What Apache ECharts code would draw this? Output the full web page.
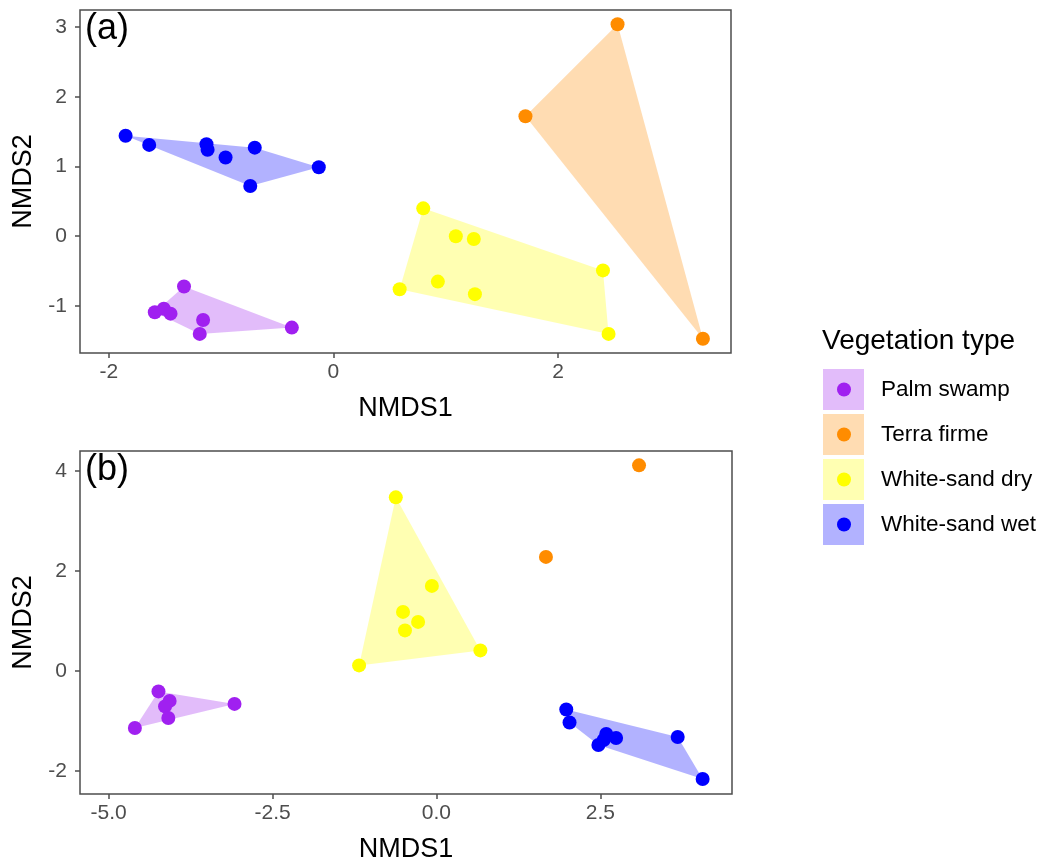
<!DOCTYPE html>
<html>
<head>
<meta charset="utf-8">
<script src="https://cdn.jsdelivr.net/npm/echarts@6/dist/echarts.min.js"></script>
<style>
html,body{margin:0;padding:0;background:#fff;}
#chart{width:1044px;height:864px;}
</style>
</head>
<body>
<div id="chart"></div>
<script>
// ---- Data ----
const groups = ['Palm swamp', 'Terra firme', 'White-sand dry', 'White-sand wet'];

// Panel (a)
const aPalmX = [-1.33, -1.59, -1.51, -1.45, -1.16, -1.19, -0.37];
const aPalmY = [-0.72, -1.09, -1.04, -1.11, -1.20, -1.40, -1.31];
const aTerraX = [2.53, 1.71, 3.29];
const aTerraY = [3.04, 1.72, -1.47];
const aDryX = [0.80, 1.09, 1.25, 0.59, 0.93, 1.26, 2.40, 2.45];
const aDryY = [0.40, 0.00, -0.04, -0.76, -0.65, -0.83, -0.49, -1.40];
const aWetX = [-1.85, -1.64, -1.13, -1.12, -0.96, -0.70, -0.74, -0.13];
const aWetY = [1.44, 1.31, 1.32, 1.24, 1.13, 1.27, 0.72, 0.99];

// Panel (b)
const bPalmX = [-4.24, -4.07, -4.14, -4.09, -4.60, -3.08];
const bPalmY = [-0.41, -0.60, -0.71, -0.94, -1.14, -0.66];
const bTerraX = [3.09, 1.67];
const bTerraY = [4.11, 2.28];
const bDryX = [-0.62, -1.18, -0.51, -0.48, -0.28, -0.07, 0.67];
const bDryY = [3.47, 0.11, 1.18, 0.81, 0.98, 1.70, 0.41];
const bWetX = [1.98, 2.03, 2.59, 2.74, 2.47, 2.55, 3.68, 4.06];
const bWetY = [-0.77, -1.03, -1.26, -1.34, -1.48, -1.38, -1.32, -2.16];

// Axis ranges and ticks
const aXRange = [-2.256, 3.54];
const aYRange = [-1.674, 3.244];
const bXRange = [-5.437, 4.508];
const bYRange = [-2.461, 4.397];
const aXTicks = [-2, 0, 2];
const aYTicks = [-1, 0, 1, 2, 3];
const bXTicks = [-5, -2.5, 0, 2.5];
const bYTicks = [-2, 0, 2, 4];

const panelLabels = ['(a)', '(b)'];
const axisTitles = ['NMDS1', 'NMDS2'];
const legendTitle = 'Vegetation type';

// ---- Styles ----
const colors = ['#A020F0', '#FF8C00', '#FFFF00', '#0000FF'];
const fills = ['rgba(160,32,240,0.3)', 'rgba(255,140,0,0.3)', 'rgba(255,255,0,0.3)', 'rgba(0,0,255,0.3)'];
const FONT = '"Liberation Sans", Arial, Helvetica, sans-serif';

function zip(xs, ys) { return xs.map((x, i) => [x, ys[i]]); }

function hull(pts) {
  const p = pts.slice().sort((a, b) => a[0] - b[0] || a[1] - b[1]);
  if (p.length < 3) return p;
  const cross = (o, a, b) => (a[0] - o[0]) * (b[1] - o[1]) - (a[1] - o[1]) * (b[0] - o[0]);
  const lower = [];
  for (const q of p) { while (lower.length >= 2 && cross(lower[lower.length - 2], lower[lower.length - 1], q) <= 0) lower.pop(); lower.push(q); }
  const upper = [];
  for (let i = p.length - 1; i >= 0; i--) { const q = p[i]; while (upper.length >= 2 && cross(upper[upper.length - 2], upper[upper.length - 1], q) <= 0) upper.pop(); upper.push(q); }
  upper.pop(); lower.pop();
  return lower.concat(upper);
}

const panels = [
  [zip(aPalmX, aPalmY), zip(aTerraX, aTerraY), zip(aDryX, aDryY), zip(aWetX, aWetY)],
  [zip(bPalmX, bPalmY), zip(bTerraX, bTerraY), zip(bDryX, bDryY), zip(bWetX, bWetY)]
];

const series = [];
panels.forEach((sets, pi) => {
  sets.forEach((pts, gi) => {
    if (pts.length >= 3) {
      const h = hull(pts);
      series.push({
        type: 'custom',
        name: groups[gi] + ' hull',
        xAxisIndex: pi, yAxisIndex: pi,
        z: 1,
        silent: true,
        data: h,
        renderItem: function (params, api) {
          if (params.dataIndex !== 0) return null;
          const poly = h.map(v => api.coord(v));
          return { type: 'polygon', shape: { points: poly }, style: { fill: fills[gi], stroke: null } };
        }
      });
    }
  });
  sets.forEach((pts, gi) => {
    series.push({
      type: 'scatter',
      name: groups[gi],
      xAxisIndex: pi, yAxisIndex: pi,
      z: 3,
      symbol: 'circle',
      symbolSize: 14,
      itemStyle: { color: colors[gi], opacity: 1 },
      data: pts
    });
  });
});

const tickLabelStyle = { color: '#4D4D4D', fontSize: 21, fontFamily: FONT };
const nameStyle = { color: '#000', fontSize: 27, fontFamily: FONT };

function xAxis(gi, range, ticks, fmt) {
  return {
    type: 'value', gridIndex: gi, min: range[0], max: range[1],
    name: axisTitles[0], nameLocation: 'middle', nameGap: 42, nameTextStyle: nameStyle,
    axisLine: { show: false, onZero: false },
    splitLine: { show: false },
    axisTick: { show: true, length: 5, customValues: ticks, lineStyle: { color: '#4D4D4D', width: 1.5 } },
    axisLabel: { show: true, margin: 9, customValues: ticks, formatter: fmt, ...tickLabelStyle }
  };
}
function yAxis(gi, range, ticks, fmt) {
  return {
    type: 'value', gridIndex: gi, min: range[0], max: range[1],
    name: axisTitles[1], nameLocation: 'middle', nameGap: 41, nameTextStyle: nameStyle,
    axisLine: { show: false, onZero: false },
    splitLine: { show: false },
    axisTick: { show: true, length: 5, customValues: ticks, lineStyle: { color: '#4D4D4D', width: 1.5 } },
    axisLabel: { show: true, margin: 13, customValues: ticks, formatter: fmt, ...tickLabelStyle }
  };
}
const intFmt = v => String(Math.round(v));
const oneFmt = v => Number(v).toFixed(1);

// Legend drawn as graphic elements (ggplot-style keys)
const legendGraphics = [{
  type: 'text', left: 822, top: 327,
  style: { text: legendTitle, fontSize: 28, fontFamily: FONT, fill: '#000' }
}];
groups.forEach((g, i) => {
  const top = 369 + i * 45;
  legendGraphics.push({ type: 'rect', left: 823, top: top, shape: { width: 41, height: 41 }, style: { fill: fills[i] } });
  legendGraphics.push({ type: 'circle', left: 837, top: top + 13.5, shape: { r: 7 }, style: { fill: colors[i] } });
  legendGraphics.push({ type: 'text', left: 881, top: top + 9, style: { text: g, fontSize: 22.5, fontFamily: FONT, fill: '#000' } });
});
legendGraphics.push({ type: 'text', left: 85, top: 11, style: { text: panelLabels[0], fontSize: 36, fontFamily: FONT, fill: '#000' } });
legendGraphics.push({ type: 'text', left: 85, top: 452, style: { text: panelLabels[1], fontSize: 36, fontFamily: FONT, fill: '#000' } });

const option = {
  animation: false,
  backgroundColor: '#fff',
  textStyle: { fontFamily: FONT },
  grid: [
    { left: 80, top: 10, width: 651, height: 343, show: true, borderColor: '#4D4D4D', borderWidth: 1.5, backgroundColor: 'transparent' },
    { left: 80, top: 451, width: 652, height: 343, show: true, borderColor: '#4D4D4D', borderWidth: 1.5, backgroundColor: 'transparent' }
  ],
  xAxis: [xAxis(0, aXRange, aXTicks, intFmt), xAxis(1, bXRange, bXTicks, oneFmt)],
  yAxis: [yAxis(0, aYRange, aYTicks, intFmt), yAxis(1, bYRange, bYTicks, intFmt)],
  graphic: legendGraphics,
  series: series
};

const chart = echarts.init(document.getElementById('chart'), null, { renderer: 'canvas' });
chart.setOption(option);
</script>
</body>
</html>
